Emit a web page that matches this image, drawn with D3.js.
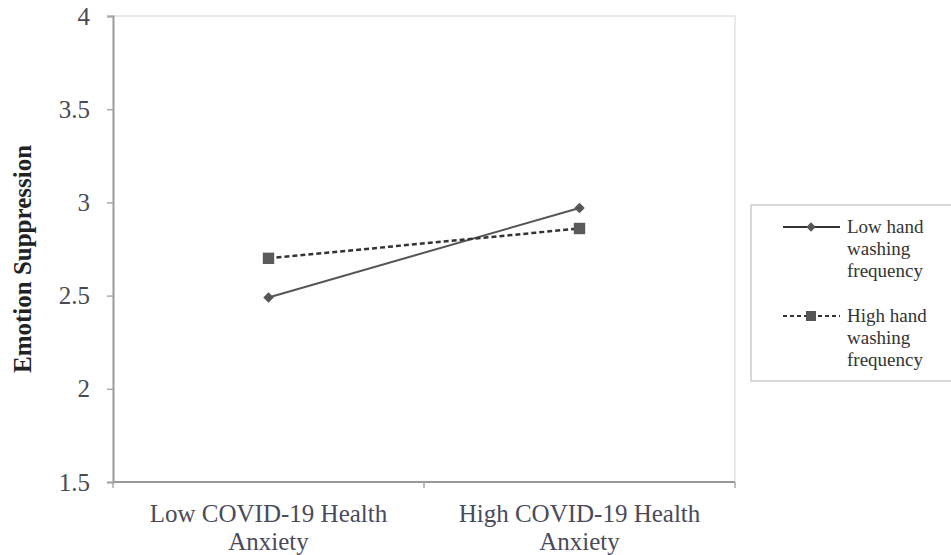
<!DOCTYPE html>
<html><head><meta charset="utf-8">
<script src="https://cdn.jsdelivr.net/npm/d3@7/dist/d3.min.js"></script>
<style>body{margin:0;background:#fff}svg{display:block}</style>
</head><body>
<svg id="c" width="951" height="555"></svg>
<script>
const categories = ["Low COVID-19 Health|Anxiety", "High COVID-19 Health|Anxiety"];
const seriesNames = ["Low hand|washing|frequency", "High hand|washing|frequency"];
const lowWashing = [2.49, 2.97];
const highWashing = [2.70, 2.86];
const yTicks = [1.5, 2, 2.5, 3, 3.5, 4];
const yTitle = "Emotion Suppression";

(function(){
const svg = d3.select("#c");
const font = "'Liberation Serif', 'Times New Roman', serif";
const pL = 113, pR = 735, pT = 16, pB = 482;
const x = d3.scaleBand().domain(categories).range([pL, pR]);
const y = d3.scaleLinear().domain([1.5, 4]).range([pB, pT]);

svg.append("path").attr("d", `M${pL},${pT}H${pR}V${pB}`)
  .attr("fill","none").attr("stroke","#e2e2e2").attr("stroke-width",1.5);

const ya = svg.append("g").attr("transform",`translate(${pL},0)`)
  .call(d3.axisLeft(y).tickValues(yTicks).tickSize(6).tickPadding(17).tickFormat(d3.format("")));
ya.select(".domain").attr("stroke","#999").attr("stroke-width",2);
ya.selectAll(".tick line").attr("stroke","#aaa").attr("stroke-width",1.5);
ya.selectAll(".tick text").attr("font-family",font).attr("font-size",25).attr("fill","#4a4a55");

const xa = svg.append("g").attr("transform",`translate(0,${pB})`);
xa.append("line").attr("x1",pL).attr("x2",pR).attr("stroke","#999").attr("stroke-width",2);
const bounds = [pL, ...categories.map(c => x(c) + x.bandwidth())];
xa.selectAll(".tk").data(bounds).join("line").attr("class","tk")
  .attr("x1",d=>d).attr("x2",d=>d).attr("y1",0).attr("y2",6).attr("stroke","#aaa").attr("stroke-width",1.5);
categories.forEach(c => {
  const t = xa.append("text").attr("x", x(c)+x.bandwidth()/2).attr("y",40)
    .attr("text-anchor","middle").attr("font-family",font).attr("font-size",25).attr("fill","#4a4a5a");
  c.split("|").forEach((ln,i)=> t.append("tspan").attr("x", x(c)+x.bandwidth()/2).attr("dy", i?28:0).text(ln));
});

svg.append("text").attr("transform",`translate(31,259) rotate(-90)`).attr("text-anchor","middle")
  .attr("font-family",font).attr("font-size",25).attr("font-weight","bold").attr("fill","#222").text(yTitle);

const cx = c => x(c) + x.bandwidth()/2;
const line = d3.line().x((d,i)=>cx(categories[i])).y(d=>y(d));

svg.append("path").datum(lowWashing).attr("d",line).attr("fill","none").attr("stroke","#555").attr("stroke-width",2);
svg.append("path").datum(highWashing).attr("d",line).attr("fill","none").attr("stroke","#333").attr("stroke-width",2.5).attr("stroke-dasharray","5,3");

const diamond = d3.symbol().type(d3.symbolDiamond2).size(70);
const square = d3.symbol().type(d3.symbolSquare).size(130);
svg.selectAll(".dm").data(lowWashing).join("path").attr("class","dm")
  .attr("transform",(d,i)=>`translate(${cx(categories[i])},${y(d)})`).attr("d",diamond).attr("fill","#555");
svg.selectAll(".sq").data(highWashing).join("path").attr("class","sq")
  .attr("transform",(d,i)=>`translate(${cx(categories[i])},${y(d)})`).attr("d",square).attr("fill","#5a5a5a");

const lg = svg.append("g");
lg.append("rect").attr("x",751).attr("y",205).attr("width",210).attr("height",176)
  .attr("fill","#fff").attr("stroke","#ccc").attr("stroke-width",1.5);
const entries = [{y:227, dash:null},{y:316, dash:"4,3"}];
entries.forEach((e,k)=>{
  lg.append("line").attr("x1",783).attr("x2",840).attr("y1",e.y).attr("y2",e.y)
    .attr("stroke","#333").attr("stroke-width",2).attr("stroke-dasharray",e.dash);
  lg.append("path").attr("transform",`translate(811,${e.y})`)
    .attr("d",k?d3.symbol().type(d3.symbolSquare).size(100)():d3.symbol().type(d3.symbolDiamond2).size(55)()).attr("fill","#555");
  const t = lg.append("text").attr("font-family",font).attr("font-size",19).attr("fill","#333");
  seriesNames[k].split("|").forEach((ln,i)=> t.append("tspan").attr("x",847).attr("y",e.y+6+i*22).text(ln));
});
})();
</script>
</body></html>
